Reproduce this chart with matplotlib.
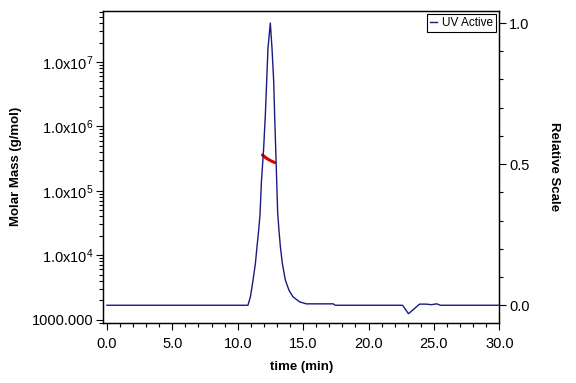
import matplotlib
matplotlib.use("Agg")
import matplotlib.pyplot as plt
from matplotlib.ticker import FixedLocator, MultipleLocator, LogLocator, NullFormatter, FormatStrFormatter

plt.rcParams['font.family'] = ['Liberation Sans', 'DejaVu Sans']
plt.rcParams['mathtext.default'] = 'regular'

# UV trace (relative scale)
uv_time = [0.0, 10.5, 10.78, 10.97, 11.17, 11.35, 11.47, 11.60, 11.70, 11.81, 11.98,
           12.11, 12.21, 12.31, 12.49, 12.62, 12.75, 12.82, 12.90, 12.98, 13.05,
           13.15, 13.26, 13.41, 13.64, 13.92, 14.22, 14.73, 15.24, 17.3, 17.45,
           22.6, 23.05, 23.9, 24.4, 24.8, 25.2, 25.5, 30.0]
uv_rel = [0.0, 0.0, 0.0, 0.03, 0.089, 0.148, 0.207, 0.266, 0.319, 0.437, 0.556,
          0.674, 0.792, 0.91, 1.0, 0.91, 0.792, 0.674, 0.556, 0.437, 0.33,
          0.266, 0.207, 0.148, 0.089, 0.053, 0.03, 0.012, 0.005, 0.005, 0.0,
          0.0, -0.03, 0.004, 0.004, 0.002, 0.005, 0.0, 0.0]

# molar mass across the peak
mm_time = [11.89, 12.19, 12.50, 12.82]
mm_mass = [3.61e5, 3.21e5, 2.95e5, 2.75e5]

mass_ticks = [1e3, 1e4, 1e5, 1e6, 1e7]
mass_labels = ['1000.000', r'1.0x10$^{4}$', r'1.0x10$^{5}$', r'1.0x10$^{6}$', r'1.0x10$^{7}$']

fig = plt.figure(figsize=(5.76, 3.83), dpi=100)
ax = fig.add_axes([0.1788, 0.1567, 0.6882, 0.8153])
ax2 = ax.twinx()

ax.semilogy(mm_time, mm_mass, color='#dd0000', lw=2.2, solid_capstyle='round', zorder=5)
ax2.plot(uv_time, uv_rel, color='#1a1a80', lw=1.0, label='UV Active')

ax.set_xlim(-0.3, 30.0)
ax.set_ylim(10 ** 2.947, 10 ** 7.798)
ax2.set_ylim(-0.0628, 1.0436)

ax.yaxis.set_major_locator(FixedLocator(mass_ticks))
ax.set_yticklabels(mass_labels)
ax.yaxis.set_minor_locator(LogLocator(base=10, subs=range(2, 10), numticks=20))
ax.yaxis.set_minor_formatter(NullFormatter())

ax.xaxis.set_major_locator(MultipleLocator(5))
ax.xaxis.set_minor_locator(MultipleLocator(1))
ax.xaxis.set_major_formatter(FormatStrFormatter('%.1f'))

ax2.yaxis.set_major_locator(MultipleLocator(0.5))
ax2.yaxis.set_minor_locator(MultipleLocator(0.1))
ax2.yaxis.set_major_formatter(FormatStrFormatter('%.1f'))

for a in (ax, ax2):
    a.tick_params(which='major', direction='out', length=5, width=0.8, labelsize=10.5, pad=2)
    a.tick_params(which='minor', direction='out', length=3, width=0.8)
    for s in a.spines.values():
        s.set_linewidth(0.9)
ax.tick_params(axis='x', pad=5)

ax.set_xlabel('time (min)', fontsize=9.5, fontweight='bold', labelpad=7)
ax.set_ylabel('Molar Mass (g/mol)', fontsize=9.5, fontweight='bold', labelpad=7)
ax2.set_ylabel('Relative Scale', fontsize=9.5, fontweight='bold', rotation=-90, labelpad=22)

leg = ax2.legend(loc='upper right', fontsize=8.5, handlelength=0.6, handletextpad=0.4,
                 borderpad=0.25, fancybox=False, framealpha=1, borderaxespad=0.3)
leg.get_frame().set_edgecolor('black')
leg.get_frame().set_linewidth(0.8)

fig.savefig('out.png', dpi=100)
